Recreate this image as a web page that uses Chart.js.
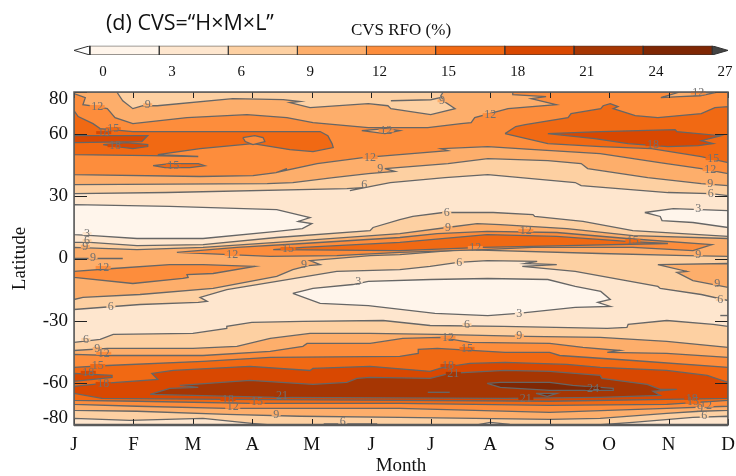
<!DOCTYPE html>
<html>
<head>
<meta charset="utf-8">
<title>CVS RFO</title>
<script src="https://cdn.jsdelivr.net/npm/chart.js@4"></script>
<style>
    html, body { margin: 0; padding: 0; background: #ffffff; }
    #page { position: relative; width: 736px; height: 476px; overflow: hidden; }
    #barCanvas { position: absolute; left: 0; top: 0; }
    #mapCanvas { position: absolute; left: 0; top: 85px; }
    #panelTitle { position: absolute; left: 106px; top: 7px; font: 21.5px "Open Sans", sans-serif; color: #111; white-space: nowrap; }
</style>
</head>
<body>
<div id="page">
    <canvas id="mapCanvas" width="736" height="391"></canvas>
    <canvas id="barCanvas" width="736" height="85"></canvas>
    <div id="panelTitle">(d) CVS=“H×M×L”</div>
</div>
<script>
// Colour bar
const levels = [0, 3, 6, 9, 12, 15, 18, 21, 24, 27];
const bandColors = ['#FFF5EB', '#FEE6CE', '#FDD0A2', '#FDAE6B', '#FD8D3C', '#F16913', '#D94801', '#A63603', '#7F2704'];

// Axes
const monthLabels = ['J', 'F', 'M', 'A', 'M', 'J', 'J', 'A', 'S', 'O', 'N', 'D'];
const latTicks = [80, 60, 30, 0, -30, -60, -80];

// Contours, each point is [month index, latitude]
const white3West = [[0,25.9],[1.61,25],[3.41,23.5],[3.97,19.7],[3.77,17.8],[4,16.8],[3.84,14.4],[3.41,13],[2.17,9.6],[1.06,9.6],[.32,11],[0,11.5]];
const white3East = [[9.6,22.1],[10.08,24],[11,23],[11,14.9],[10.41,17.3],[9.89,18.2],[9.86,20.2]];
const white3South = [[3.68,-16.8],[4.02,-14.4],[4.69,-12.5],[4.95,-11],[6,-10.1],[6.96,-9.6],[7.97,-10.1],[8.43,-13.4],[8.86,-15.8],[9.02,-19.7],[8.81,-21.1],[9.02,-23],[8.43,-23.5],[7.47,-26.4],[6.96,-27.4],[6.07,-26.4],[4.95,-22.6],[4.14,-21.6]];

const north6 = [[0,31.2],[1.56,31.7],[4.59,33.6],[4.86,34.1],[4.64,32.6],[5.06,35],[5.32,36.5],[6.24,38.9],[6.96,40.3],[8.43,36.5],[8.53,35],[9.99,31.7],[10.71,31.2],[11,30.2]];
const north9 = [[0,35.5],[3.25,36],[3.68,36.5],[4.36,38.9],[4.95,40.8],[5.4,41.8],[5.23,43.2],[6.29,45.6],[6.96,48],[7.97,47],[8.53,45.6],[8.64,43.2],[9.65,38.9],[10.55,36],[11,35]];
const northTop9 = [[.72,80],[.82,75.8],[.99,72],[1.16,73.4],[1.4,73.4],[2.67,76.8],[3.52,76.3],[3.8,75.4],[3.63,74.9],[3.97,72.5],[4.95,74.4],[5.28,73.4],[5.33,72],[6,69.1],[6.41,72],[6.21,75.8],[6.17,78.2],[6.21,80]];
const northTop12 = [[0,79.2],[.19,77.3],[.15,73.9],[.39,73],[.56,72],[.69,67.7],[.99,64.8],[1.9,67.7],[2.91,69.1],[3.58,67.7],[4.02,65.3],[4.95,62.9],[5.95,62.9],[6.51,64.8],[6.68,65.3],[6.74,67.7],[7.3,72],[8.11,73.9],[7.69,76.8],[7.94,77.8],[7.38,78.7],[7.38,80],[11,80]];
const north12 = [[0,40.3],[2.12,39.4],[3.01,39.8],[3.4,41.3],[3.58,43.2],[3.48,41.8],[4.09,45.6],[4.86,48.5],[6.29,51.8],[6.17,52.8],[6.96,53.8],[7.75,52.3],[8.85,50.4],[9.85,46.1],[10.55,43.2],[11,40.8]];
const notch12Top = [[9.87,77.3],[10.19,80],[10.83,80],[10.53,78.2],[10.19,77.8]];
const notch12Mid = [[4.84,61.4],[5.23,62.4],[5.48,61.4],[5.23,60]];
const west15 = [[0,71],[.07,68.2],[.32,64.8],[.44,62.4],[.99,61],[4.14,61],[4.27,59],[4.34,55.2],[4.36,53.3],[4.02,51.4],[3.63,52.3],[3.01,55.2],[2.12,52.8],[1.41,49.9],[2.09,49],[1.28,49.4],[0,49.9]];
const bubble15 = [[2.84,58.1],[3.04,59],[3.18,58.1],[3.21,56.2],[3.01,54.7],[2.88,56.2]];
const lens15 = [[1.33,44.6],[1.61,45.6],[2.09,45.6],[2.2,44.6],[1.95,43.7],[1.53,43.7]];
const east15 = [[7.25,60],[7.43,63.4],[7.59,64.3],[8.31,67.7],[8.36,69.6],[8.86,72],[8.9,73.4],[9.02,74.4],[9.15,73],[9.07,72],[9.44,68.6],[9.82,67.7],[10.55,69.6],[10.78,72.5],[11,73],[11,46.1],[10.55,49],[9.71,52.8],[8.86,53.8],[7.97,55.2]];
const west18 = [[0,59],[1.24,59],[1.14,56.2],[0,55.7]];
const west18Lens = [[.49,54.7],[.89,55.7],[1.24,54.7],[1.24,53.8],[.99,52.8],[.72,53.8]];
const east18 = [[7.97,60],[8.86,61],[10.11,61.9],[10.14,61],[10.88,59],[10.55,56.6],[10.75,55.2],[10.5,54.2],[9.99,53.8],[9.32,55.2],[8.76,57.6]];

const equatorUpper6 = [[0,7.7],[.27,7.7],[1.06,6.2],[2.17,6.7],[3.41,10.1],[4.98,13.4],[5.03,14.9],[5.48,18.7],[5.7,20.2],[6.21,22.1],[7.05,22.1],[7.72,21.1],[7.75,20.2],[8.56,17.8],[9.4,13.4],[11,10.6]];
const equatorLower6 = [[0,-24.5],[1.11,-22.1],[2.09,-21.1],[2.24,-20.6],[2.12,-18.7],[2.57,-14.9],[3.41,-11],[4.42,-6.2],[5.48,-5.3],[5.99,-3.8],[6.46,-1.9],[6.95,-1],[7.79,-1.4],[7.59,-2.4],[8.12,-2.9],[7.54,-3.8],[8.43,-6.2],[9.82,-13.4],[9.86,-14.4],[10.55,-17.3],[11,-20.2]];
const equatorUpper9 = [[0,5.3],[1.06,4.3],[2.17,5.3],[3.41,7.7],[5.48,12],[6.27,14.9],[6.78,16.8],[7.17,16.3],[8.29,14.4],[9.4,11],[11,9.6]];
const equatorLower9 = [[0,-19.7],[.15,-18.7],[1.11,-17.3],[2.34,-14.4],[3.41,-8.6],[3.68,-5.3],[3.94,-3.4],[4.14,-2.9],[3.97,-1],[4.98,1.4],[5.48,1.9],[6.54,4.3],[8.85,2.4],[10.31,1.4],[11,1]];
const east9 = [[9.82,-2.9],[11,-2.4],[11,-13.9],[10.41,-10.6],[10.14,-6.7],[10.31,-6.2]];
const equator12 = [[1.73,2.9],[2.74,5.3],[3.85,7.2],[5.48,10.1],[6.11,12],[6.95,13],[8.12,12.5],[9.3,9.6],[10.73,6.7],[10.41,3.8],[9.4,5.3],[7.72,5.3],[6.88,4.3],[5.48,2.9],[4.42,1.4],[3.3,1]];
const equator15 = [[3.35,4.3],[3.85,5.3],[5.48,7.7],[6.95,11.5],[8.12,10.6],[9.3,8.2],[9.99,7.2],[8.29,6.2],[6.88,5.3],[5.48,3.8]];
const tropic12 = [[0,-6.2],[.66,-4.8],[1.61,-2.9],[2.17,-2.9],[3.04,-3.8],[2.34,-7.2],[1.9,-7.7],[1.92,-9.1],[1.83,-9.6],[.99,-12],[0,-9.1]];

const south6 = [[0,-40.3],[.44,-38.9],[.66,-36.5],[2,-36],[2.57,-33.6],[2.57,-32.6],[2.99,-30.7],[3.85,-30.2],[5.2,-29.8],[5.99,-32.2],[7.22,-32.6],[8.97,-33.6],[9.3,-33.1],[9.32,-31.7],[9.97,-29.8],[10.75,-31.7],[11,-32.6]];
const southUpper9 = [[0,-44.2],[.56,-43.2],[2,-43.2],[2.74,-42.2],[3.3,-38.4],[3.97,-36],[4.98,-36],[6.11,-36.5],[7.62,-37.4],[8.85,-37.9],[9.97,-39.8],[11,-42.7]];
const southUpper12 = [[0,-46.1],[.61,-46.6],[2.17,-46.6],[3.3,-44.6],[3.85,-42.2],[3.92,-40.8],[4.98,-40.8],[5.53,-38.4],[6.16,-37.9],[6.66,-40.3],[8,-40.8],[8.56,-42.7],[9.18,-44.2],[8.97,-45.1],[9.97,-45.6],[11,-47.5]];
const southUpper15 = [[0,-52.3],[.56,-51.4],[2.17,-49.4],[3.3,-47.5],[5.48,-47],[5.79,-45.6],[5.79,-43.7],[6.11,-43.2],[7.25,-45.1],[8,-45.1],[8.17,-46.6],[9.4,-49],[11,-52.3]];
const southUpper18 = [[0,-61.4],[.49,-60],[1.41,-58.1],[1.31,-55.2],[1.67,-53.8],[2.96,-51.8],[3.97,-53.8],[4.02,-52.8],[4.98,-51.8],[5.99,-54.2],[6.21,-52.3],[6.66,-50.4],[7.25,-49.9],[8.29,-50.9],[8.85,-52.3],[9.97,-53.8],[10.65,-56.2],[11,-59.5]];
const southLower18 = [[0,-64.8],[.47,-67.2],[2.51,-67.7],[5.48,-68.2],[8,-68.6],[9.97,-67.7],[11,-67.2]];
const southLower15 = [[0,-68.2],[1.06,-68.6],[2.96,-69.6],[5.48,-69.6],[8,-70.6],[9.97,-70.1],[11,-68.2]];
const southLower12 = [[0,-70.1],[1.06,-71],[2.57,-72],[5.48,-72],[8,-73.9],[9.97,-72],[11,-71]];
const southLower9 = [[0,-73],[1.06,-73.4],[2.57,-74.9],[3.8,-75.8],[5.48,-76.3],[8,-77.3],[8.85,-76.8],[9.97,-74.4],[10.53,-73.4],[11,-73]];
const southWest18 = [[0,-55.2],[.64,-56.2],[.64,-57.1],[0,-59]];
const south21 = [[1.28,-65.3],[1.61,-62.4],[2.09,-61.9],[1.78,-61],[2.96,-58.6],[4.02,-60.5],[4.59,-59.5],[4.76,-57.6],[4.98,-57.1],[5.99,-57.6],[6.32,-55.2],[7.25,-53.8],[8,-54.2],[8.85,-56.2],[8.88,-57.6],[9.64,-60.5],[9.86,-62.9],[10.14,-62.9],[9.74,-63.8],[9.86,-65.8],[8.85,-66.7],[7.25,-67.2],[3.41,-66.7]];
const south24 = [[6.95,-60],[7.17,-59.5],[8,-59.5],[8.39,-61],[9.07,-62.4],[9.07,-63.4],[8,-63.4],[7.17,-61.9]];
const south24Lens = [[7.77,-64.8],[8.12,-64.8],[7.96,-66.2]];
const bottomWest6 = [[0,-76.8],[.94,-77.8],[2.17,-76.8],[2.99,-79.2],[3.3,-80],[0,-80]];
const bottomMid6 = [[6.78,-80],[7,-78.7],[7.33,-79.7],[7.59,-80]];
const bottomEast6 = [[8.8,-80],[9.4,-78.7],[10.41,-76.3],[11,-75.8],[11,-80]];

// Contour bits that are only a line
const contourSlivers = [
    [[5.33,75.8],[6,76.3],[6.16,77.3]],
    [[0,0],[.82,0]],
    [[10.87,-27.4],[11,-27.4]],
    [[5.95,-64.3],[6.32,-64.3]],
    [[4.2,-79.5],[5.1,-79.5]]
];

// Labels on the contours: [month index, latitude, level]
const contourLabels = [
    [.39,73,12],[1.24,73.9,9],[.66,62.4,15],[.5,60.5,18],[.69,54.2,18],[1.67,44.6,15],[5.25,61.4,12],[7,69.1,12],
    [6.19,75.8,9],[4.98,48.5,12],[5.15,43.2,9],[4.88,35.5,6],[9.74,54.7,18],[10.75,48,15],[10.7,42.7,12],[10.7,36,9],
    [10.71,31.2,6],[10.5,24,3],[10.5,79.5,12],[6.27,22.1,6],[6.29,14.9,9],[7.6,13.4,12],[9.4,8.6,15],[6.75,5.3,12],
    [10.5,1.9,9],[6.48,-1.9,6],[10.82,-12,9],[10.87,-19.7,6],[7.49,-26.4,3],[4.78,-11,3],[.22,12,3],[.22,8.6,6],
    [.19,5.8,9],[.32,.5,9],[.49,-4.3,12],[2.66,1.9,12],[3.6,4.8,15],[3.87,-2.9,9],[.62,-23,6],[.2,-38.9,6],
    [.39,-43.2,9],[.5,-45.6,12],[.4,-51.4,15],[.24,-54.7,18],[.49,-60,18],[2.59,-67.7,18],[3.08,-69.1,15],[2.67,-71.5,12],
    [3.4,-74.9,9],[3.5,-65.8,21],[4.52,-78.7,6],[6.29,-37.9,12],[6.61,-43.2,15],[6.29,-51.4,18],[6.38,-55.2,21],[6.61,-31.7,6],
    [7.49,-37,9],[7.6,-67.2,21],[8.73,-62.4,24],[10.39,-67.2,18],[10.41,-69.1,15],[10.63,-70.6,12],[10.53,-72,9],[10.6,-75.8,6]
];

const serif = '"Liberation Serif", "Times New Roman", serif';
const contourColor = '#666666';
// The end labels of the latitude axis sit just inside the frame
const edgeLabelLat = 76.8;

// Helpers for closing contours into areas
function closed(points) {
    return points.concat([points[0]]);
}
function between(upper, lower) {
    return upper.concat(lower.slice().reverse());
}
function colorOf(level) {
    return bandColors[levels.indexOf(level)];
}

// Painted from the lowest level to the highest
const areas = [
    [[[0,80],[11,80],[11,-80],[0,-80]], 3],
    [between([[0,80],[11,80]], north6), 6],
    [between(equatorUpper6, equatorLower6), 6],
    [south6.concat([[11,-80],[0,-80]]), 6],
    [white3West, 0], [white3East, 0], [white3South, 0],
    [between([[0,80]].concat(northTop9, [[11,80]]), north9), 9],
    [between(equatorUpper9, equatorLower9), 9],
    [east9, 9],
    [between(southUpper9, southLower9), 9],
    [between(northTop12, north12), 12],
    [notch12Top, 9], [notch12Mid, 9],
    [equator12, 12], [tropic12, 12],
    [between(southUpper12, southLower12), 12],
    [west15, 15], [bubble15, 12], [lens15, 15], [east15, 15], [equator15, 15],
    [between(southUpper15, southLower15), 15],
    [west18, 18], [west18Lens, 18], [east18, 18], [southWest18, 18],
    [between(southUpper18, southLower18), 18],
    [south21, 21],
    [south24, 24], [south24Lens, 24],
    [bottomWest6, 3], [bottomMid6, 3], [bottomEast6, 3]
];

function toXY(points) {
    return points.map(p => ({ x: p[0], y: p[1] }));
}

// First dataset ends up on top in Chart.js, so the list is reversed
const mapDatasets = contourSlivers.map(line => ({
    data: toXY(line),
    showLine: true,
    borderColor: contourColor,
    borderWidth: 1.4,
    pointRadius: 0
})).concat(areas.slice().reverse().map(area => ({
    data: toXY(closed(area[0])),
    showLine: true,
    areaColor: colorOf(area[1]),
    borderColor: contourColor,
    borderWidth: 1.3,
    pointRadius: 0
})));

// Fills a dataset's line as a closed shape
const areaFill = {
    id: 'areaFill',
    beforeDatasetDraw(chart, args) {
        const color = chart.data.datasets[args.index].areaColor;
        if (!color) return;
        const ctx = chart.ctx;
        const area = chart.chartArea;
        ctx.save();
        ctx.beginPath();
        ctx.rect(area.left, area.top, area.right - area.left, area.bottom - area.top);
        ctx.clip();
        ctx.beginPath();
        args.meta.data.forEach((pt, i) => {
            if (i === 0) ctx.moveTo(pt.x, pt.y);
            else ctx.lineTo(pt.x, pt.y);
        });
        ctx.closePath();
        ctx.fillStyle = color;
        ctx.fill();
        ctx.restore();
    }
};

// Contour labels, inward ticks and the frame
const mapDecor = {
    id: 'mapDecor',
    afterDatasetsDraw(chart) {
        const ctx = chart.ctx;
        const area = chart.chartArea;
        const xs = chart.scales.x;
        const ys = chart.scales.y;
        ctx.save();
        ctx.font = '12px ' + serif;
        ctx.textAlign = 'center';
        ctx.textBaseline = 'middle';
        contourLabels.forEach(label => {
            const x = xs.getPixelForValue(label[0]);
            const y = ys.getPixelForValue(label[1]);
            const text = String(label[2]);
            const w = ctx.measureText(text).width + 3;
            ctx.fillStyle = colorOf(label[2]);
            ctx.fillRect(x - w / 2, y - 1.5, w, 3);
            ctx.fillStyle = '#707070';
            ctx.fillText(text, x, y);
        });

        ctx.strokeStyle = '#222222';
        ctx.lineWidth = 1;
        monthLabels.forEach((m, i) => {
            const x = Math.round(xs.getPixelForValue(i)) + 0.5;
            ctx.beginPath();
            ctx.moveTo(x, area.top);
            ctx.lineTo(x, area.top + 6);
            ctx.moveTo(x, area.bottom);
            ctx.lineTo(x, area.bottom - 6);
            ctx.stroke();
        });
        latTicks.forEach(v => {
            const y = Math.round(ys.getPixelForValue(v)) + 0.5;
            ctx.beginPath();
            ctx.moveTo(area.left, y);
            ctx.lineTo(area.left + 13, y);
            ctx.moveTo(area.right, y);
            ctx.lineTo(area.right - 13, y);
            ctx.stroke();
        });

        ctx.strokeStyle = '#5a5a5a';
        ctx.lineWidth = 1.5;
        ctx.strokeRect(area.left, area.top, area.right - area.left, area.bottom - area.top);
        ctx.lineWidth = 2.5;
        ctx.beginPath();
        ctx.moveTo(area.left, area.bottom);
        ctx.lineTo(area.right, area.bottom);
        ctx.stroke();
        ctx.restore();
    }
};

new Chart(document.getElementById('mapCanvas').getContext('2d'), {
    type: 'scatter',
    data: { datasets: mapDatasets },
    plugins: [areaFill, mapDecor],
    options: {
        responsive: false,
        animation: false,
        layout: { autoPadding: false, padding: { left: 0, right: 8, top: 7, bottom: 0 } },
        plugins: { legend: { display: false }, tooltip: { enabled: false } },
        scales: {
            x: {
                type: 'linear',
                min: 0,
                max: 11,
                afterFit(scale) {
                    scale.height = 51;
                    scale.paddingLeft = 0;
                    scale.paddingRight = 0;
                },
                grid: { display: false, drawTicks: false },
                border: { display: false },
                ticks: {
                    stepSize: 1,
                    autoSkip: false,
                    maxRotation: 0,
                    padding: 9,
                    color: '#111111',
                    font: { family: serif, size: 19 },
                    callback: value => monthLabels[value]
                },
                title: {
                    display: true,
                    text: 'Month',
                    color: '#111111',
                    font: { family: serif, size: 19 },
                    padding: { top: 0, bottom: -1.5 }
                }
            },
            y: {
                type: 'linear',
                min: -80,
                max: 80,
                afterFit(scale) {
                    scale.width = 74;
                    scale.paddingTop = 0;
                    scale.paddingBottom = 0;
                },
                afterBuildTicks(scale) {
                    scale.ticks = latTicks.map(v => ({
                        value: Math.abs(v) === 80 ? Math.sign(v) * edgeLabelLat : v
                    }));
                },
                grid: { display: false, drawTicks: false },
                border: { display: false },
                ticks: {
                    padding: 6,
                    autoSkip: false,
                    color: '#111111',
                    font: { family: serif, size: 19 },
                    callback: value => Math.abs(value) === edgeLabelLat ? Math.sign(value) * 80 : value
                },
                title: {
                    display: true,
                    text: 'Latitude',
                    color: '#111111',
                    font: { family: serif, size: 19 },
                    padding: { top: 9, bottom: 0 }
                }
            }
        }
    }
});

// Colour bar with its two pointed ends
const barEdgeColor = '#333333';
const barDatasets = bandColors.map((color, i) => ({
    data: toXY(closed([[levels[i], 0], [levels[i + 1], 0], [levels[i + 1], 1], [levels[i], 1]])),
    showLine: true,
    areaColor: color,
    borderColor: barEdgeColor,
    borderWidth: 1,
    pointRadius: 0
}));
barDatasets.push({
    data: toXY(closed([[0, 0], [-0.69, 0.5], [0, 1]])),
    showLine: true, areaColor: '#ffffff', borderColor: barEdgeColor, borderWidth: 1, pointRadius: 0
});
barDatasets.push({
    data: toXY(closed([[27, 0], [27.69, 0.5], [27, 1]])),
    showLine: true, areaColor: '#444444', borderColor: barEdgeColor, borderWidth: 1, pointRadius: 0
});

new Chart(document.getElementById('barCanvas').getContext('2d'), {
    type: 'scatter',
    data: { datasets: barDatasets },
    plugins: [areaFill],
    options: {
        responsive: false,
        animation: false,
        layout: { autoPadding: false, padding: { left: 74, right: 8, top: 20, bottom: 0 } },
        plugins: {
            legend: { display: false },
            tooltip: { enabled: false },
            title: {
                display: true,
                text: 'CVS RFO (%)',
                color: '#111111',
                font: { family: serif, size: 17, weight: 'normal' },
                padding: { top: 0, bottom: 5.4 }
            }
        },
        scales: {
            x: {
                type: 'linear',
                min: -0.69,
                max: 27.69,
                afterFit(scale) { scale.height = 30; },
                afterBuildTicks(scale) { scale.ticks = levels.map(v => ({ value: v })); },
                grid: { display: false, drawTicks: false },
                border: { display: false },
                ticks: {
                    autoSkip: false,
                    maxRotation: 0,
                    labelOffset: 13,
                    padding: 8,
                    color: '#111111',
                    font: { family: serif, size: 15 }
                }
            },
            y: { type: 'linear', min: 0, max: 1, display: false }
        }
    }
});
</script>
</body>
</html>
